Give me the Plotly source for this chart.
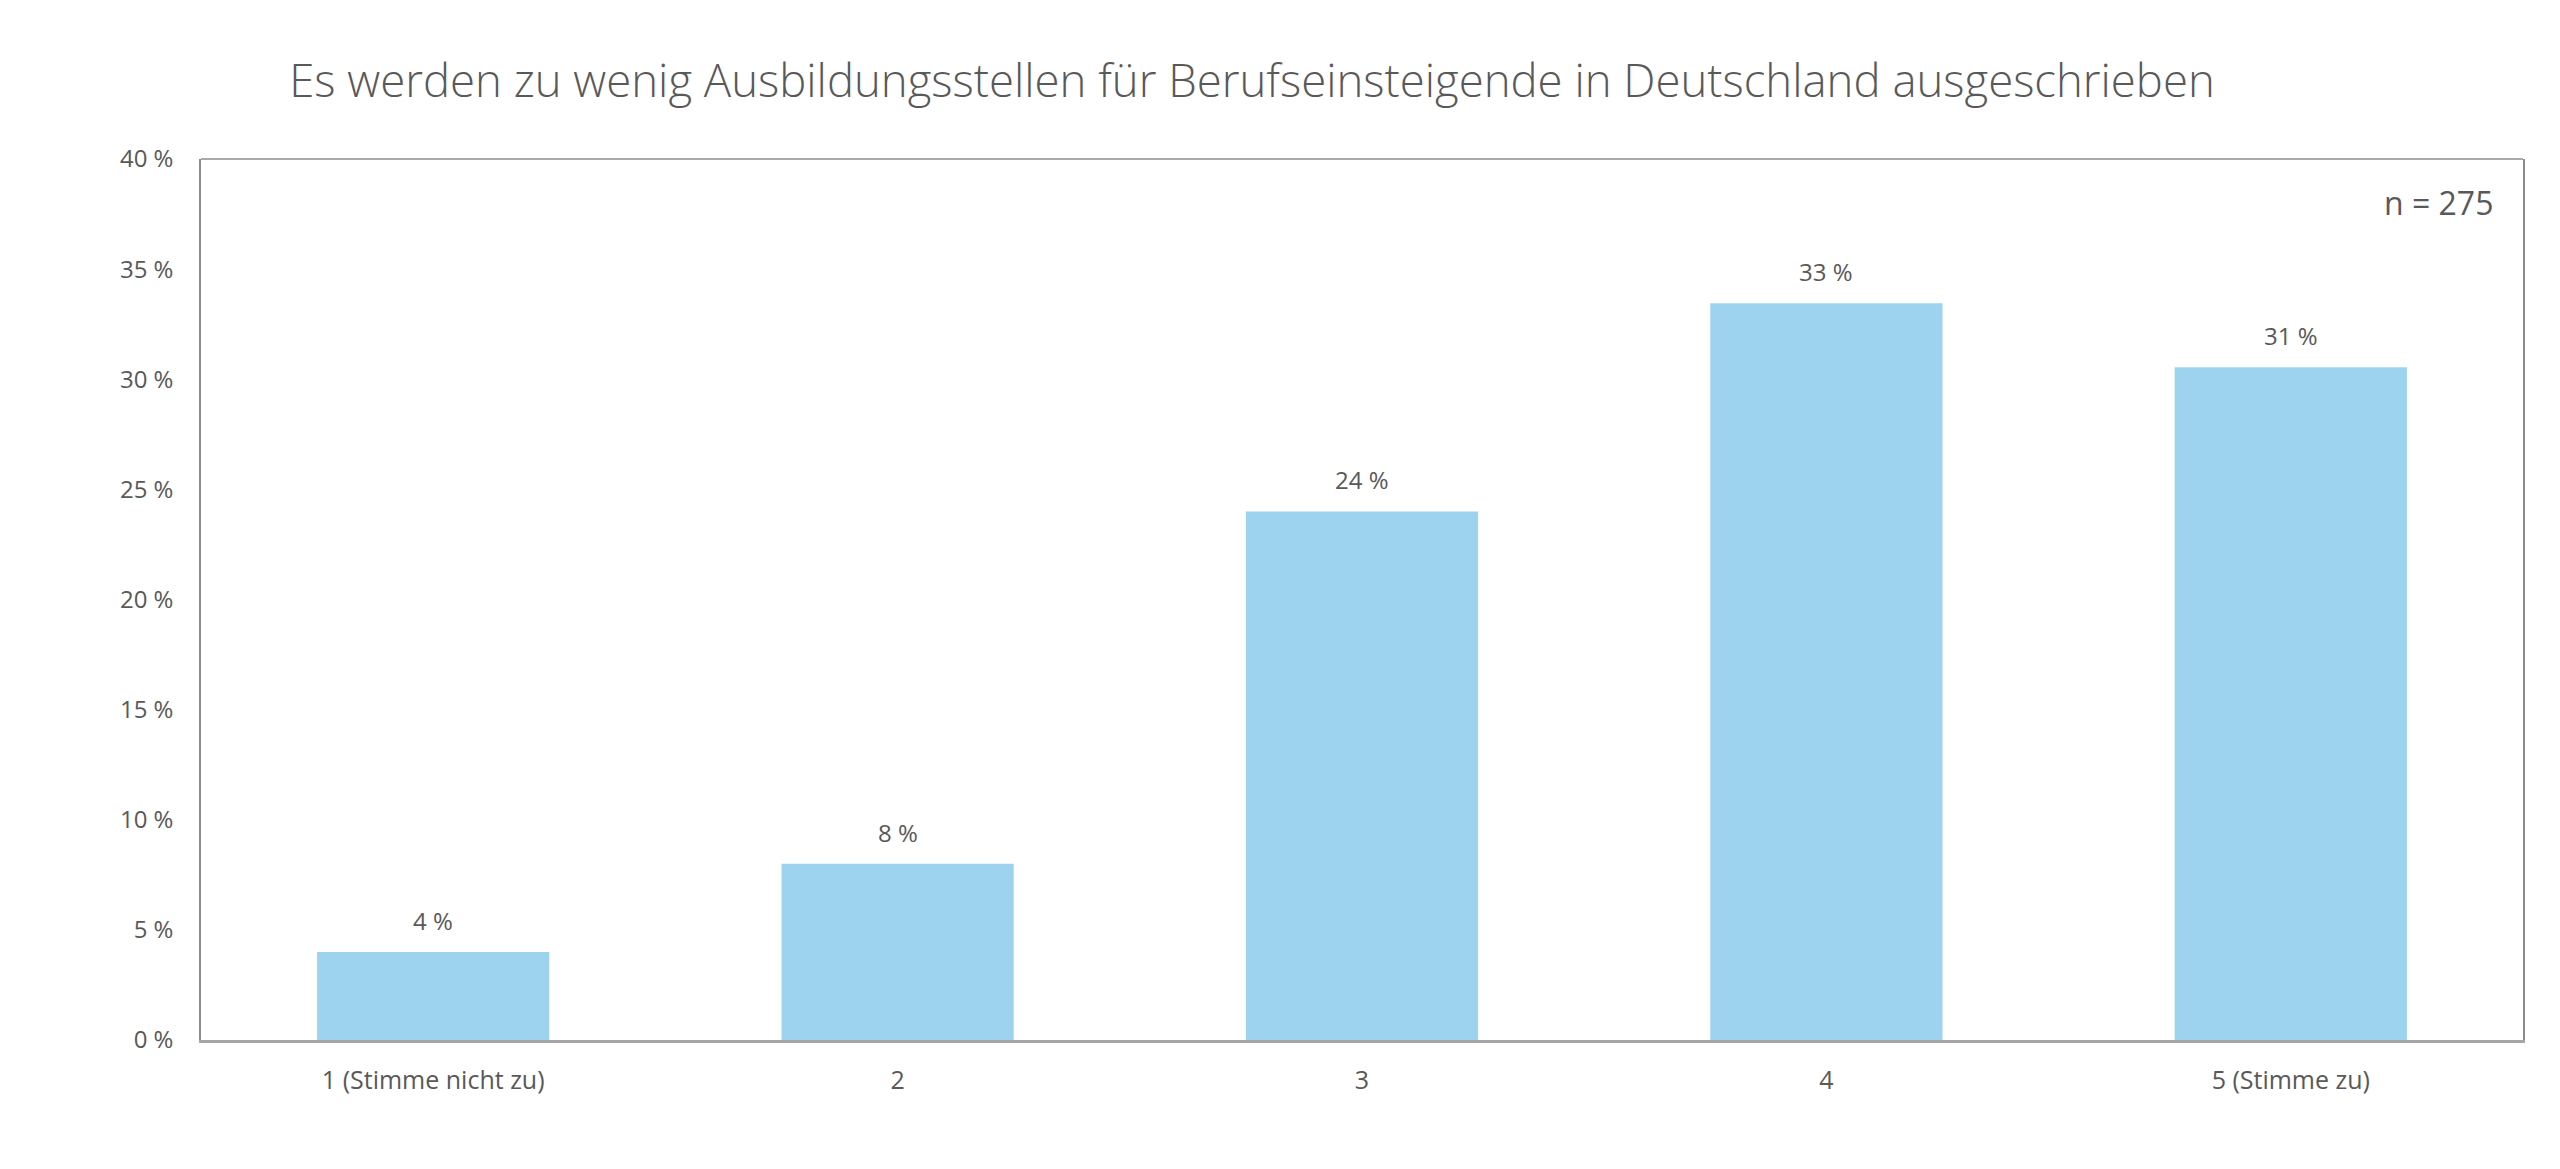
import plotly.graph_objects as go

# Antwortverteilung, n = 275
categories = ["1 (Stimme nicht zu)", "2", "3", "4", "5 (Stimme zu)"]
shares = [4.0, 8.0, 24.0, 33.45, 30.55]
labels = ["4 %", "8 %", "24 %", "33 %", "31 %"]
y_ticks = [0, 5, 10, 15, 20, 25, 30, 35, 40]
y_tick_labels = [f"{v} %" for v in y_ticks]

title_text = "Es werden zu wenig Ausbildungsstellen für Berufseinsteigende in Deutschland ausgeschrieben"
n_text = "n = 275"

grey = "#595959"
bar_color = "#9DD3EE"

# die Seite hat 8 px Rand, daher etwas kleiner
W, H = 2552, 1161

fig = go.Figure()

fig.add_trace(go.Bar(
    x=categories,
    y=shares,
    marker=dict(color=bar_color, line=dict(width=0)),
    hoverinfo="skip",
))

# Werte über den Balken (x als Kategorienindex)
for i, (val, lab) in enumerate(zip(shares, labels)):
    fig.add_annotation(
        x=i, y=val, text=lab,
        showarrow=False, yanchor="bottom", yshift=13,
        font=dict(size=24, color=grey),
    )

fig.add_annotation(
    xref="paper", yref="paper", x=1, y=1,
    xanchor="right", yanchor="middle", xshift=-28, yshift=-43,
    text=n_text, showarrow=False,
    font=dict(size=32, color=grey),
)

# obere Rahmenlinie
fig.add_shape(
    type="line", xref="paper", yref="paper",
    x0=0, x1=1, y0=1, y1=1,
    line=dict(color="#8c8c8c", width=1.5),
)

fig.update_layout(
    width=W,
    height=H,
    paper_bgcolor="white",
    plot_bgcolor="white",
    font=dict(family="Open Sans", color=grey),
    title=dict(
        text=title_text,
        x=1244 / W, xanchor="center",
        y=1 - 73 / H, yanchor="middle",
        font=dict(size=45.5, color=grey, weight=300),
    ),
    margin=dict(l=193, r=37, t=151, b=129),
    bargap=0.5,
    showlegend=False,
    xaxis=dict(
        showline=True, linecolor="#a6a6a6", linewidth=2.5,
        showgrid=False, ticks="outside", ticklen=16,
        tickcolor="rgba(0,0,0,0)",
        tickfont=dict(size=25, color=grey),
    ),
    yaxis=dict(
        range=[0, 40],
        tickvals=y_ticks, ticktext=y_tick_labels,
        showline=True, linecolor="#8c8c8c", linewidth=1.5, mirror=True,
        showgrid=False, zeroline=False,
        ticks="outside", ticklen=21, tickcolor="rgba(0,0,0,0)",
        tickfont=dict(size=24, color=grey),
    ),
)

fig.write_html("out.html")
